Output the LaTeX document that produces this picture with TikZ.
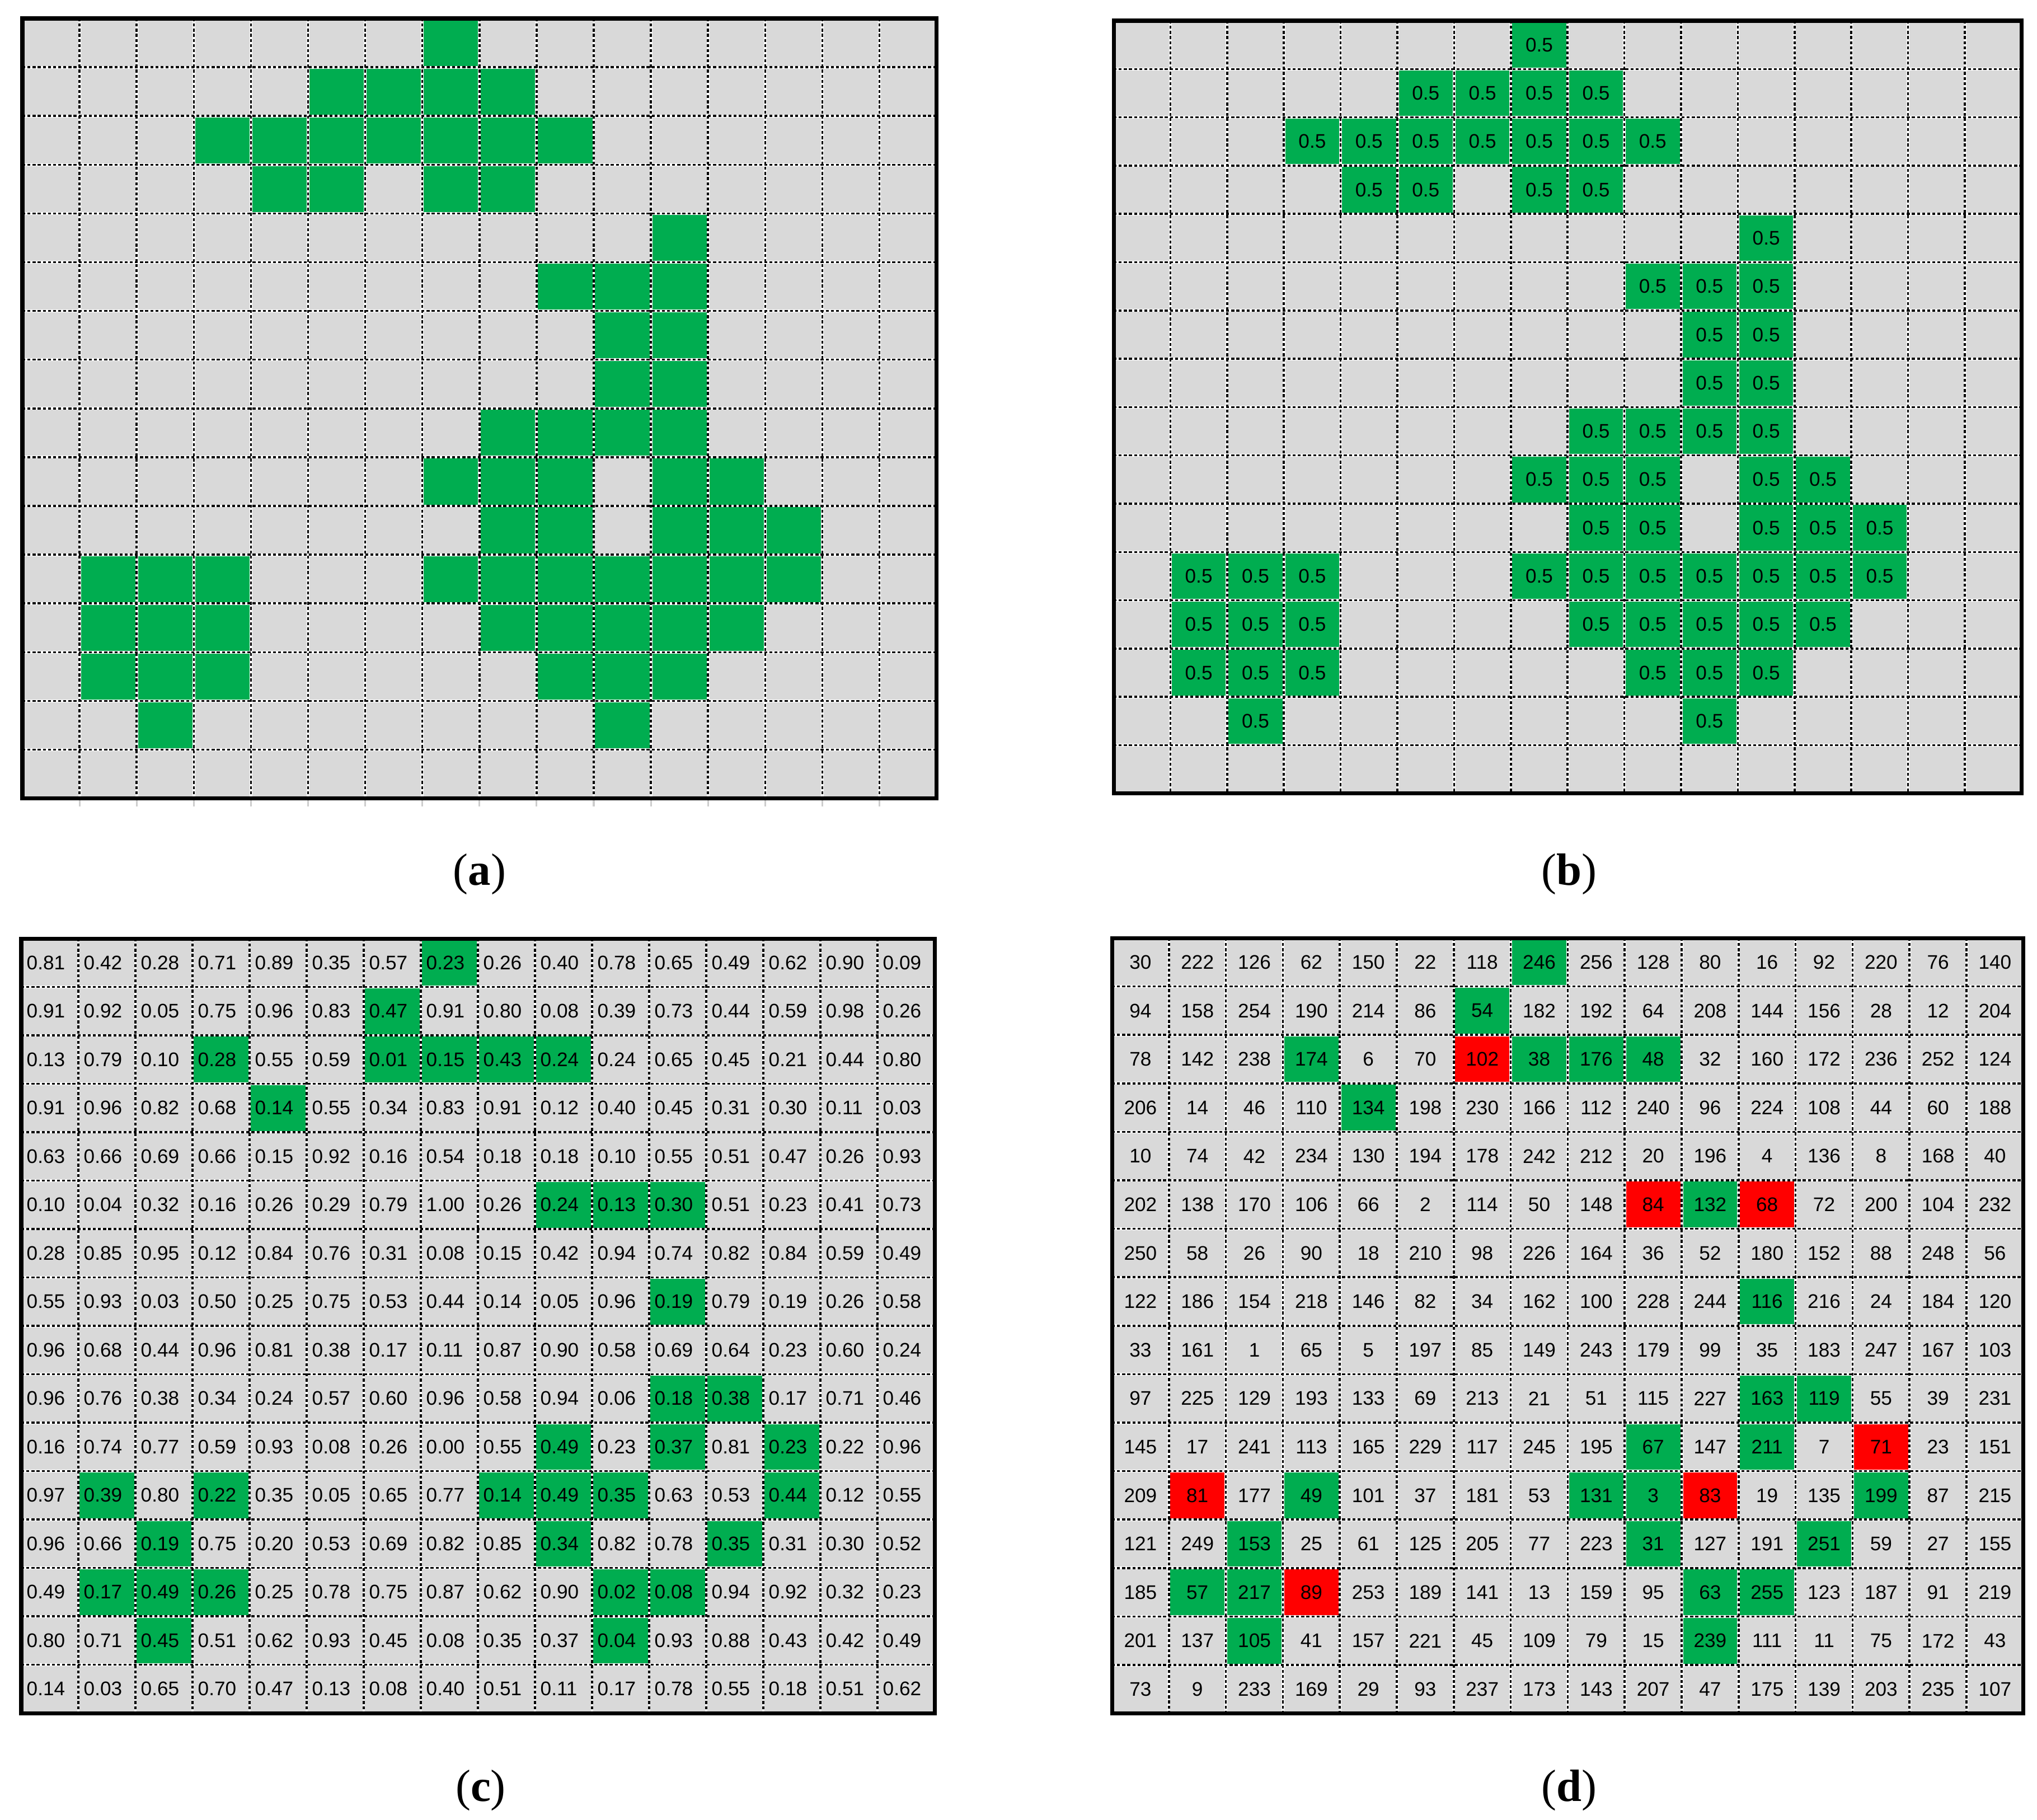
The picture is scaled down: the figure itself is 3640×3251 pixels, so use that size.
\documentclass[tikz,border=0pt]{standalone}
\usepackage{fontspec}
\newfontfamily\cellfont{Liberation Sans}
\newfontfamily\capfont{Liberation Serif}
\definecolor{cellgray}{RGB}{217,217,217}
\definecolor{cellgreen}{RGB}{0,173,80}
\definecolor{cellred}{RGB}{255,0,0}
\definecolor{tickgray}{RGB}{205,205,205}
\def\abgreen{8/1, 6/2,7/2,8/2,9/2, 4/3,5/3,6/3,7/3,8/3,9/3,10/3, 5/4,6/4,8/4,9/4, 12/5, 10/6,11/6,12/6, 11/7,12/7, 11/8,12/8, 9/9,10/9,11/9,12/9, 8/10,9/10,10/10,12/10,13/10, 9/11,10/11,12/11,13/11,14/11, 2/12,3/12,4/12,8/12,9/12,10/12,11/12,12/12,13/12,14/12, 2/13,3/13,4/13,9/13,10/13,11/13,12/13,13/13, 2/14,3/14,4/14,10/14,11/14,12/14, 3/15,11/15}
\def\cgreen{8/1, 7/2, 4/3,7/3,8/3,9/3,10/3, 5/4, 10/6,11/6,12/6, 12/8, 12/10,13/10, 10/11,12/11,14/11, 2/12,4/12,9/12,10/12,11/12,14/12, 3/13,10/13,13/13, 2/14,3/14,4/14,11/14,12/14, 3/15,11/15}
\def\dgreen{8/1, 7/2, 4/3,8/3,9/3,10/3, 5/4, 11/6, 12/8, 12/10,13/10, 10/11,12/11, 4/12,9/12,10/12,14/12, 3/13,10/13,13/13, 2/14,3/14,11/14,12/14, 3/15,11/15}
\def\dred{7/3, 10/6, 12/6, 14/11, 2/12, 11/12, 4/14}
\newcommand\panelbg[4]{\fill[cellgray] (#1,#2) rectangle ({#1+16*#3},{#2+16*#4});}
\newcommand\panelcells[6]{\foreach \cc/\rr in #6 {\fill[#5] ({#1+(\cc-1)*#3},{#2+(\rr-1)*#4}) rectangle ++(#3,#4);}}
\newcommand\panellines[4]{%
  \foreach \i in {1,...,15}{
    \draw[gw] ({#1+\i*#3},#2) -- ({#1+\i*#3},{#2+16*#4});
    \draw[gw] (#1,{#2+\i*#4}) -- ({#1+16*#3},{#2+\i*#4});}
  \foreach \i in {1,...,15}{
    \draw[gd] ({#1+\i*#3},#2) -- ({#1+\i*#3},{#2+16*#4});
    \draw[gd] (#1,{#2+\i*#4}) -- ({#1+16*#3},{#2+\i*#4});}
  \draw[frame] (#1,#2) rectangle ({#1+16*#3},{#2+16*#4});}
\begin{document}
\begin{tikzpicture}[x=0.01cm,y=-0.01cm,
  gw/.style={white,line width=1.4pt},
  gd/.style={black,line width=1.0pt,dash pattern=on 1.5pt off 1.1pt},
  frame/.style={black,line width=2pt},
  valtext/.style={inner sep=0pt,font=\cellfont\fontsize{10}{12}\selectfont,text=black},
  captext/.style={inner sep=0pt,font=\capfont\fontsize{23}{28}\selectfont}]
\useasboundingbox[fill=white] (0,0) rectangle (3640,3251);
% ---------- panel (a)
\panelbg{40}{33}{102.1}{87.1}
\panelcells{40}{33}{102.1}{87.1}{cellgreen}{\abgreen}
\panellines{40}{33}{102.1}{87.1}
\foreach \i in {1,...,15} \draw[tickgray,line width=0.9pt] ({40+\i*102.1},1430) -- ({40+\i*102.1},1441);
% ---------- panel (b)
\panelbg{1990}{37}{101.4}{86.3}
\panelcells{1990}{37}{101.4}{86.3}{cellgreen}{\abgreen}
\panellines{1990}{37}{101.4}{86.3}
\foreach \cc/\rr [count=\k] in \abgreen {\node[valtext] (b\k) at ({1990+(\cc-0.5)*101.4},{37+(\rr-0.5)*86.3}) {0.5};}
% ---------- panel (c)
\panelbg{38}{1677}{102}{86.5}
\panelcells{38}{1677}{102}{86.5}{cellgreen}{\cgreen}
\panellines{38}{1677}{102}{86.5}
\foreach \rowvals [count=\r] in {
 {0.81,0.42,0.28,0.71,0.89,0.35,0.57,0.23,0.26,0.40,0.78,0.65,0.49,0.62,0.90,0.09},
 {0.91,0.92,0.05,0.75,0.96,0.83,0.47,0.91,0.80,0.08,0.39,0.73,0.44,0.59,0.98,0.26},
 {0.13,0.79,0.10,0.28,0.55,0.59,0.01,0.15,0.43,0.24,0.24,0.65,0.45,0.21,0.44,0.80},
 {0.91,0.96,0.82,0.68,0.14,0.55,0.34,0.83,0.91,0.12,0.40,0.45,0.31,0.30,0.11,0.03},
 {0.63,0.66,0.69,0.66,0.15,0.92,0.16,0.54,0.18,0.18,0.10,0.55,0.51,0.47,0.26,0.93},
 {0.10,0.04,0.32,0.16,0.26,0.29,0.79,1.00,0.26,0.24,0.13,0.30,0.51,0.23,0.41,0.73},
 {0.28,0.85,0.95,0.12,0.84,0.76,0.31,0.08,0.15,0.42,0.94,0.74,0.82,0.84,0.59,0.49},
 {0.55,0.93,0.03,0.50,0.25,0.75,0.53,0.44,0.14,0.05,0.96,0.19,0.79,0.19,0.26,0.58},
 {0.96,0.68,0.44,0.96,0.81,0.38,0.17,0.11,0.87,0.90,0.58,0.69,0.64,0.23,0.60,0.24},
 {0.96,0.76,0.38,0.34,0.24,0.57,0.60,0.96,0.58,0.94,0.06,0.18,0.38,0.17,0.71,0.46},
 {0.16,0.74,0.77,0.59,0.93,0.08,0.26,0.00,0.55,0.49,0.23,0.37,0.81,0.23,0.22,0.96},
 {0.97,0.39,0.80,0.22,0.35,0.05,0.65,0.77,0.14,0.49,0.35,0.63,0.53,0.44,0.12,0.55},
 {0.96,0.66,0.19,0.75,0.20,0.53,0.69,0.82,0.85,0.34,0.82,0.78,0.35,0.31,0.30,0.52},
 {0.49,0.17,0.49,0.26,0.25,0.78,0.75,0.87,0.62,0.90,0.02,0.08,0.94,0.92,0.32,0.23},
 {0.80,0.71,0.45,0.51,0.62,0.93,0.45,0.08,0.35,0.37,0.04,0.93,0.88,0.43,0.42,0.49},
 {0.14,0.03,0.65,0.70,0.47,0.13,0.08,0.40,0.51,0.11,0.17,0.78,0.55,0.18,0.51,0.62}}{
  \foreach \v [count=\c] in \rowvals {
    \node[valtext,anchor=west] (c\r-\c) at ({38+(\c-1)*102+9},{1677+(\r-0.5)*86.5}) {\v};}}
% ---------- panel (d)
\panelbg{1987}{1676}{101.8}{86.6}
\panelcells{1987}{1676}{101.8}{86.6}{cellgreen}{\dgreen}
\panelcells{1987}{1676}{101.8}{86.6}{cellred}{\dred}
\panellines{1987}{1676}{101.8}{86.6}
\foreach \rowvals [count=\r] in {
 {30,222,126,62,150,22,118,246,256,128,80,16,92,220,76,140},
 {94,158,254,190,214,86,54,182,192,64,208,144,156,28,12,204},
 {78,142,238,174,6,70,102,38,176,48,32,160,172,236,252,124},
 {206,14,46,110,134,198,230,166,112,240,96,224,108,44,60,188},
 {10,74,42,234,130,194,178,242,212,20,196,4,136,8,168,40},
 {202,138,170,106,66,2,114,50,148,84,132,68,72,200,104,232},
 {250,58,26,90,18,210,98,226,164,36,52,180,152,88,248,56},
 {122,186,154,218,146,82,34,162,100,228,244,116,216,24,184,120},
 {33,161,1,65,5,197,85,149,243,179,99,35,183,247,167,103},
 {97,225,129,193,133,69,213,21,51,115,227,163,119,55,39,231},
 {145,17,241,113,165,229,117,245,195,67,147,211,7,71,23,151},
 {209,81,177,49,101,37,181,53,131,3,83,19,135,199,87,215},
 {121,249,153,25,61,125,205,77,223,31,127,191,251,59,27,155},
 {185,57,217,89,253,189,141,13,159,95,63,255,123,187,91,219},
 {201,137,105,41,157,221,45,109,79,15,239,111,11,75,172,43},
 {73,9,233,169,29,93,237,173,143,207,47,175,139,203,235,107}}{
  \foreach \v [count=\c] in \rowvals {
    \node[valtext] (d\r-\c) at ({1987+(\c-0.5)*101.8},{1676+(\r-0.5)*86.6}) {\v};}}
% ---------- captions
\node[captext] (capa) at (857,1562) {(\textbf{a})};
\node[captext] (capb) at (2804,1562) {(\textbf{b})};
\node[captext] (capc) at (859,3199) {(\textbf{c})};
\node[captext] (capd) at (2804,3199) {(\textbf{d})};
\end{tikzpicture}
\end{document}
